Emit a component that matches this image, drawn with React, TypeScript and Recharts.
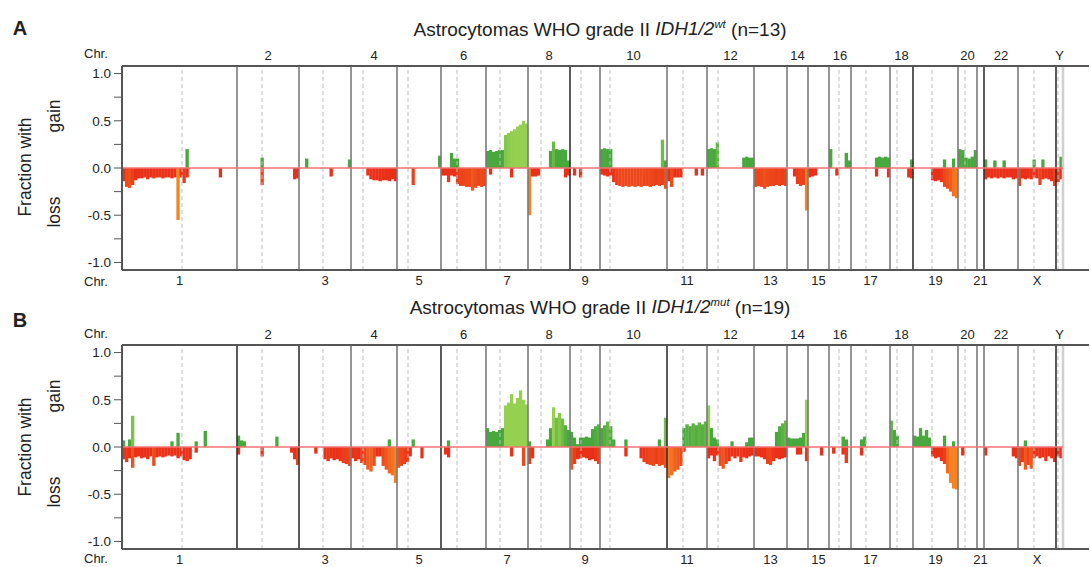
import { ComposedChart, Bar, Cell, XAxis, YAxis, ReferenceLine } from 'recharts'

// chromosome layout (relative widths as drawn in the figure)
const chromNames = ['1', '2', '3', '4', '5', '6', '7', '8', '9', '10', '11', '12', '13', '14', '15', '16', '17', '18', '19', '20', '21', '22', 'X', 'Y']
const chromLengths = [115, 62, 52, 46, 44, 45, 42, 42, 30, 67, 40, 47, 33, 21, 21, 22, 39, 23, 45, 19, 7, 34, 38, 7]
// centromere offset inside each chromosome (0 = none drawn)
const centromeres = [60, 25, 24, 12, 11, 16, 14, 13, 11, 10, 16, 11, 0, 0, 0, 10, 15, 7, 19, 7, 0, 0, 16, 2]
const binsPerChrom = [38, 21, 17, 15, 15, 15, 14, 14, 10, 22, 13, 16, 11, 7, 7, 7, 13, 8, 15, 6, 2, 11, 13, 2]

const yTicks = [-1, -0.75, -0.5, -0.25, 0, 0.25, 0.5, 0.75, 1]

// fraction of samples with gain / loss, per chromosome bin (missing trailing bins = 0)
const gainA: number[][] = [
  [0, 0, 0, 0, 0, 0, 0, 0, 0, 0, 0, 0, 0, 0, 0, 0, 0, 0, 0, 0, 0, 0.2],
  [0, 0, 0, 0, 0, 0, 0, 0, 0.11],
  [0, 0, 0.1, 0, 0, 0, 0, 0, 0, 0, 0, 0, 0, 0, 0, 0, 0.09],
  [],
  [0, 0, 0, 0, 0, 0, 0, 0, 0, 0, 0, 0, 0, 0, 0.13],
  [0, 0, 0, 0.16, 0.1, 0.1],
  [0.18, 0.19, 0.17, 0.18, 0.19, 0.19, 0.35, 0.37, 0.39, 0.41, 0.44, 0.46, 0.5, 0.47],
  [0, 0, 0, 0, 0, 0, 0, 0.18, 0.28, 0.2, 0.19, 0.2, 0.19, 0.08],
  [],
  [0.2, 0.21, 0.2, 0.2, 0, 0, 0, 0, 0, 0, 0, 0, 0, 0, 0, 0, 0, 0, 0, 0, 0.3, 0.08],
  [],
  [0.2, 0.21, 0.2, 0.27, 0, 0, 0, 0, 0, 0, 0, 0, 0.11, 0.12, 0.11, 0.11],
  [],
  [],
  [],
  [0.2, 0, 0, 0, 0, 0.16, 0.08],
  [0, 0, 0, 0, 0, 0, 0, 0, 0.11, 0.12, 0.11, 0.12, 0.11],
  [0, 0, 0, 0, 0, 0, 0, 0.09],
  [0, 0, 0, 0, 0, 0, 0, 0, 0, 0, 0.09, 0, 0, 0.1],
  [0.2, 0.19, 0.11, 0.1, 0.12, 0.19],
  [],
  [0.09, 0, 0, 0.08, 0, 0, 0.08],
  [0, 0, 0, 0, 0, 0.09, 0, 0, 0.09],
  [0, 0.12],
]

const lossA: number[][] = [
  [-0.14, -0.2, -0.21, -0.18, -0.13, -0.11, -0.11, -0.1, -0.12, -0.1, -0.11, -0.1, -0.1, -0.11, -0.1, -0.1, -0.11, -0.1, -0.55, -0.1, -0.16, -0.1, 0, 0, 0, 0, 0, 0, 0, 0, 0, 0, -0.1],
  [0, 0, 0, 0, 0, 0, 0, 0, -0.18, 0, 0, 0, 0, 0, 0, 0, 0, 0, 0, -0.12, -0.11],
  [0, 0, 0, 0, 0, 0, 0, 0, 0, 0, -0.09],
  [0, 0, 0, 0, 0, -0.08, -0.12, -0.13, -0.13, -0.14, -0.13, -0.13, -0.14, -0.12, -0.14],
  [0, 0, 0, 0, 0, -0.18],
  [-0.08, -0.08, -0.15, -0.08, -0.09, -0.17, -0.19, -0.19, -0.2, -0.2, -0.24, -0.21, -0.19, -0.2, -0.19],
  [0, -0.07, 0, 0, 0, 0, 0, 0, -0.1],
  [-0.5, -0.09, -0.09, -0.08, 0, 0, 0, 0, 0, 0, 0, 0, -0.1, -0.08],
  [0, -0.08, 0, -0.1],
  [-0.07, -0.08, -0.09, -0.08, -0.15, -0.18, -0.19, -0.2, -0.19, -0.2, -0.19, -0.2, -0.19, -0.2, -0.19, -0.19, -0.2, -0.19, -0.18, -0.19, -0.18, -0.22],
  [-0.14, -0.2, -0.1, -0.1, -0.1, 0, 0, 0, 0, -0.08, 0, -0.08],
  [],
  [-0.2, -0.19, -0.2, -0.22, -0.2, -0.19, -0.19, -0.18, -0.19, -0.18, -0.19],
  [0, 0, -0.09, -0.17, -0.19, -0.18, -0.45],
  [-0.1, -0.09, -0.08],
  [0, 0, -0.08],
  [0, 0, 0, 0, 0, 0, 0, 0, -0.09, 0, 0, 0, -0.1],
  [0, 0, 0, 0, 0, 0, -0.1, -0.11],
  [0, 0, 0, 0, 0, 0, -0.13, -0.14, -0.13, -0.15, -0.2, -0.22, -0.25, -0.3, -0.32],
  [],
  [],
  [-0.12, -0.1, -0.11, -0.1, -0.11, -0.1, -0.11, -0.1, -0.1, -0.12, -0.11],
  [-0.19, -0.11, -0.12, -0.11, -0.12, -0.1, -0.11, -0.18, -0.12, -0.11, -0.12, -0.14, -0.19],
  [-0.15, -0.12],
]

const gainB: number[][] = [
  [0.07, 0, 0.08, 0.33, 0, 0, 0, 0, 0, 0, 0, 0, 0, 0, 0, 0, 0.06, 0, 0.15, 0, 0, 0, 0, 0, 0.06, 0, 0, 0.17],
  [0.12, 0.07, 0.06, 0, 0, 0, 0, 0, 0, 0, 0, 0, 0, 0.11],
  [],
  [0, 0, 0, 0, 0, 0, 0, 0, 0, 0, 0, 0, 0.08],
  [0, 0, 0, 0, 0, 0.08],
  [0, 0, 0.07],
  [0.2, 0.16, 0.17, 0.16, 0.18, 0.2, 0.44, 0.47, 0.56, 0.46, 0.52, 0.6, 0.5, 0.45],
  [0.06, 0, 0, 0, 0, 0, 0.08, 0.2, 0.42, 0.31, 0.36, 0.3, 0.23, 0.18],
  [0.16, 0.1, 0.03, 0.1, 0.1, 0.11, 0.1, 0.19, 0.22, 0.24],
  [0.2, 0.23, 0.27, 0.22, 0.08, 0, 0, 0, 0.08, 0, 0, 0, 0, 0, 0, 0, 0, 0, 0, 0.08, 0, 0.31],
  [0, 0, 0, 0, 0, 0.2, 0.24, 0.22, 0.25, 0.23, 0.26, 0.24, 0.27],
  [0.44, 0.2, 0.1, 0.08, 0, 0, 0, 0, 0.06, 0, 0, 0, 0, 0.05, 0.1, 0.1],
  [0, 0, 0, 0, 0, 0, 0, 0.16, 0.22, 0.25, 0.28],
  [0.1, 0.09, 0.09, 0.09, 0.1, 0.15, 0.5],
  [],
  [0, 0, 0, 0, 0.11, 0.08],
  [0, 0, 0, 0.08, 0.11],
  [0.28, 0.18, 0.12],
  [0.12, 0.11, 0.2, 0.12, 0.18, 0.1, 0, 0, 0, 0, 0.12, 0, 0, 0.06],
  [],
  [],
  [],
  [0, 0, 0.07],
  [],
]

const lossB: number[][] = [
  [-0.13, -0.16, -0.12, -0.22, -0.11, -0.1, -0.12, -0.11, -0.13, -0.1, -0.2, -0.11, -0.1, -0.11, -0.1, -0.09, -0.1, -0.09, -0.12, -0.1, -0.14, -0.15, -0.13, 0, -0.06],
  [-0.08, 0, 0, 0, 0, 0, 0, 0, -0.1, 0, 0, 0, 0, 0, 0, 0, 0, 0, -0.06, -0.13, -0.19],
  [0, 0, 0, 0, 0, -0.07, 0, 0, -0.13, -0.15, -0.12, -0.14, -0.13, -0.15, -0.17, -0.18, -0.2],
  [-0.12, -0.15, -0.13, -0.17, -0.19, -0.24, -0.26, -0.2, -0.1, -0.1, -0.2, -0.24, -0.28, -0.3, -0.38],
  [-0.22, -0.2, -0.18, -0.16, -0.1, 0, 0, 0, -0.12],
  [0, -0.08, -0.11],
  [0, 0, 0, 0, 0, 0, 0, 0, -0.1, 0, 0, 0, -0.2],
  [-0.18, -0.12],
  [-0.24, -0.18, -0.13, -0.12, -0.11, -0.12, -0.14, -0.13, -0.15, -0.18],
  [0, 0, 0, 0, 0, 0, 0, 0, -0.1, 0, 0, 0, 0, -0.12, -0.16, -0.18, -0.19, -0.2, -0.18, -0.2, -0.19, -0.22],
  [-0.33, -0.3, -0.26, -0.24, -0.2, -0.05],
  [-0.12, -0.09, -0.15, -0.09, -0.2, -0.23, -0.18, -0.15, -0.1, -0.12, -0.1, -0.16, -0.11, -0.12, -0.1, -0.09],
  [-0.1, -0.1, -0.11, -0.13, -0.18, -0.19, -0.15, -0.12, -0.13, -0.12, -0.11],
  [0, 0, 0, -0.08, -0.08, 0, -0.15],
  [0, 0, 0, 0, -0.09],
  [0, -0.07, 0, 0, -0.08, -0.17],
  [0, 0, 0, -0.09],
  [],
  [0, 0, 0, 0, 0, 0, -0.1, -0.12, -0.11, -0.15, -0.18, -0.28, -0.38, -0.44, -0.45],
  [0, -0.09],
  [],
  [-0.09, 0, 0, 0, 0, 0, 0, 0, 0, -0.1, -0.12],
  [-0.2, -0.16, -0.24, -0.19, -0.23, -0.12, -0.1, -0.12, -0.11, -0.15, -0.1, -0.12, -0.16],
  [-0.1, -0.12],
]

const chromStarts = chromLengths.map((_, i) => chromLengths.slice(0, i).reduce((a, b) => a + b, 0))
const totalLen = chromLengths.reduce((a, b) => a + b, 0)
const chromCenters = chromStarts.map((s, i) => s + chromLengths[i] / 2)
const topTicks = chromCenters.filter((_, i) => i % 2 === 1)
const bottomTicks = chromCenters.filter((_, i) => i % 2 === 0)
const X_MAX = 967 // plot is 967px wide, so one unit = one pixel

const chromLabel = (v: number) => {
  const i = chromCenters.findIndex((c) => Math.abs(c - v) < 0.01)
  return i >= 0 ? chromNames[i] : ''
}

const clamp = (t: number) => Math.max(0, Math.min(1, t))
const mix = (a: number[], b: number[], t: number) =>
  `rgb(${a.map((v, i) => Math.round(v + (b[i] - v) * t)).join(',')})`
const gainColor = (v: number) => mix([72, 168, 62], [150, 208, 80], clamp((v - 0.2) / 0.2))
const lossColor = (v: number) => mix([234, 48, 24], [246, 130, 34], clamp((-v - 0.14) / 0.2))

function buildRows(gain: number[][], loss: number[][]) {
  const rows: { x: number; w: number; gain: number; loss: number }[] = []
  chromLengths.forEach((len, c) => {
    const n = binsPerChrom[c]
    const w = len / n
    for (let i = 0; i < n; i++) {
      rows.push({
        x: chromStarts[c] + (i + 0.5) * w,
        w,
        gain: gain[c][i] ?? 0,
        loss: loss[c][i] ?? 0,
      })
    }
  })
  return rows
}

// bin bars: keep the library's centre and height, but span the whole bin
const BinBar = (p: any) => {
  if (!p.height) return null
  const cx = p.x + p.width / 2
  const half = p.payload.w / 2 + 0.15
  const y = Math.min(p.y, p.y + p.height)
  return <rect x={cx - half} y={y} width={half * 2} height={Math.abs(p.height)} fill={p.fill} />
}

const axisStroke = { stroke: '#555', strokeWidth: 2 }
const tickFont = { fontSize: 13, fill: '#222' }

function CopyNumberPanel({ gain, loss, darkBounds }: { gain: number[][]; loss: number[][]; darkBounds: number[] }) {
  const rows = buildRows(gain, loss)
  return (
    <ComposedChart
      width={1091}
      height={258}
      data={rows}
      margin={{ top: 10, right: 2, bottom: 0, left: 0 }}
      stackOffset="sign"
      barCategoryGap={0}
      barGap={0}
    >
      <XAxis
        xAxisId="top"
        orientation="top"
        type="number"
        dataKey="x"
        domain={[0, X_MAX]}
        allowDataOverflow
        ticks={topTicks}
        interval={0}
        height={20}
        tickLine={false}
        tickSize={4}
        tickMargin={2}
        axisLine={axisStroke}
        tick={tickFont}
        tickFormatter={chromLabel}
      />
      <XAxis
        xAxisId="bottom"
        orientation="bottom"
        type="number"
        dataKey="x"
        domain={[0, X_MAX]}
        allowDataOverflow
        ticks={bottomTicks}
        interval={0}
        height={24}
        tickLine={false}
        tickSize={4}
        tickMargin={2}
        axisLine={axisStroke}
        tick={tickFont}
        tickFormatter={chromLabel}
      />
      <YAxis
        yAxisId="y"
        type="number"
        width={122}
        domain={[-1.08, 1.08]}
        allowDataOverflow
        ticks={yTicks}
        interval={0}
        tickSize={8}
        tickMargin={3}
        axisLine={axisStroke}
        tickLine={{ stroke: '#555' }}
        tick={{ fontSize: 13.5, fill: '#222' }}
        tickFormatter={(v: number) => (Number.isInteger(v * 2) ? v.toFixed(1) : '')}
      />

      {centromeres.map((c, i) =>
        c > 0 ? (
          <ReferenceLine
            key={'cen' + i}
            xAxisId="bottom"
            yAxisId="y"
            x={chromStarts[i] + c}
            stroke="#bdbdbd"
            strokeDasharray="4 3"
          />
        ) : null
      )}

      <Bar dataKey="gain" xAxisId="bottom" yAxisId="y" stackId="cn" shape={BinBar} isAnimationActive={false}>
        {rows.map((r, i) => (
          <Cell key={i} fill={gainColor(r.gain)} />
        ))}
      </Bar>
      <Bar dataKey="loss" xAxisId="bottom" yAxisId="y" stackId="cn" shape={BinBar} isAnimationActive={false}>
        {rows.map((r, i) => (
          <Cell key={i} fill={lossColor(r.loss)} />
        ))}
      </Bar>

      {chromStarts.slice(1).map((s, k) => (
        <ReferenceLine
          key={'b' + k}
          xAxisId="bottom"
          yAxisId="y"
          x={s}
          stroke={darkBounds.includes(k + 1) ? '#333' : '#7a7a7a'}
          strokeWidth={1.6}
        />
      ))}
      <ReferenceLine xAxisId="bottom" yAxisId="y" x={totalLen} stroke="#cfcfcf" strokeWidth={2.5} />
      <ReferenceLine
        xAxisId="bottom"
        yAxisId="y"
        segment={[{ x: 0, y: 0 }, { x: totalLen, y: 0 }]}
        stroke="#f27272"
        strokeWidth={1.5}
      />
    </ComposedChart>
  )
}

const abs = (left: number, top: number, extra: any = {}) => ({
  position: 'absolute' as const,
  left,
  top,
  whiteSpace: 'nowrap' as const,
  lineHeight: 1,
  ...extra,
})
const centered = { transform: 'translate(-50%, -50%)' }
const rotated = { transform: 'translate(-50%, -50%) rotate(-90deg)' }

function PanelText({ letter, letterY, sup, n, titleY, dy, chrBottomY }: any) {
  return (
    <>
      <div style={abs(20, letterY, { ...centered, fontSize: 20, fontWeight: 'bold' })}>{letter}</div>
      <div style={abs(600, titleY, { ...centered, fontSize: 19 })}>
        Astrocytomas WHO grade II <i>IDH1/2<sup style={{ fontSize: '0.6em' }}>{sup}</sup></i> (n={n})
      </div>
      <div style={abs(84, 53 + dy, { fontSize: 13, transform: 'translateY(-50%)' })}>Chr.</div>
      <div style={abs(84, chrBottomY, { fontSize: 13, transform: 'translateY(-50%)' })}>Chr.</div>
      <div style={abs(26, 167 + dy, { ...rotated, fontSize: 17.5 })}>Fraction with</div>
      <div style={abs(55, 116 + dy, { ...rotated, fontSize: 17.5 })}>gain</div>
      <div style={abs(55, 212 + dy, { ...rotated, fontSize: 17.5 })}>loss</div>
    </>
  )
}

export default function App() {
  return (
    <div
      style={{
        position: 'absolute',
        left: 0,
        top: 0,
        width: 1091,
        height: 567,
        overflow: 'hidden',
        background: '#fff',
        color: '#222',
        fontFamily: '"Liberation Sans", Arial, sans-serif',
      }}
    >
      <div style={{ position: 'absolute', left: 0, top: 36 }}>
        <CopyNumberPanel gain={gainA} loss={lossA} darkBounds={[8, 18, 21, 23]} />
      </div>
      <div style={{ position: 'absolute', left: 0, top: 315 }}>
        <CopyNumberPanel gain={gainB} loss={lossB} darkBounds={[1, 2, 5, 10, 23]} />
      </div>
      <PanelText letter="A" letterY={28} sup="wt" n={13} titleY={29} dy={0} chrBottomY={281} />
      <PanelText letter="B" letterY={320} sup="mut" n={19} titleY={307} dy={280} chrBottomY={558} />
    </div>
  )
}
